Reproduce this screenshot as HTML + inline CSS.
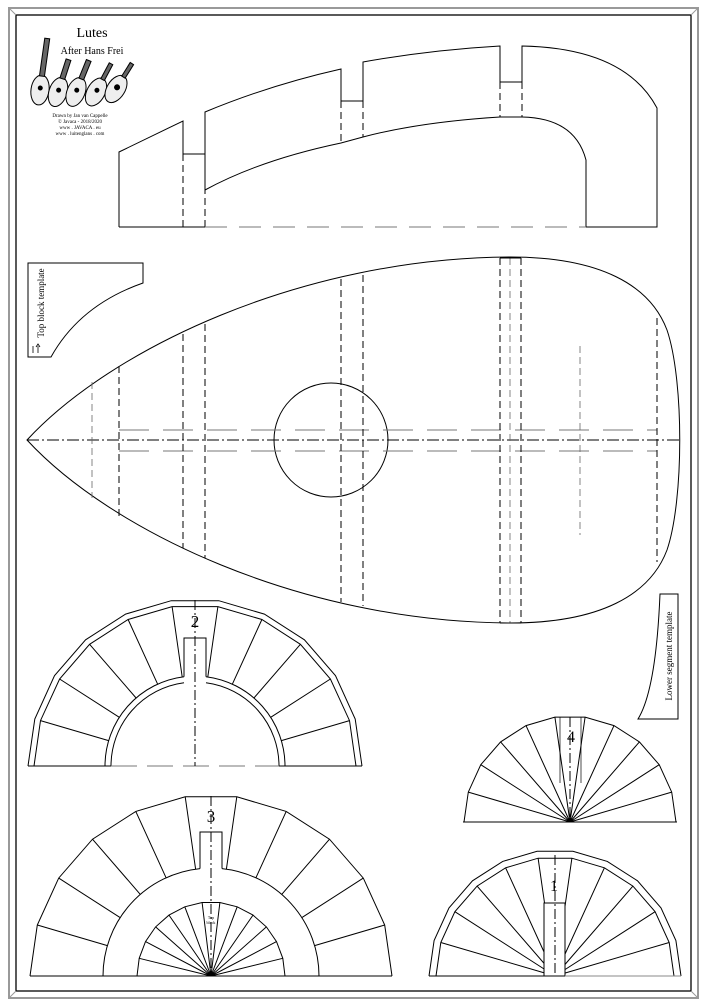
<!DOCTYPE html>
<html><head><meta charset="utf-8"><style>
html,body{margin:0;padding:0;background:#fff;}
svg{display:block;}
text{font-family:"Liberation Serif",serif;}
</style></head><body>
<svg id="s" width="707" height="1006" viewBox="0 0 707 1006" xmlns="http://www.w3.org/2000/svg" fill="none" stroke="#000" stroke-width="1">
<rect x="9" y="8" width="689" height="990" stroke="#999" stroke-width="2"/>
<rect x="16" y="15" width="675" height="976" stroke="#000" stroke-width="1.3"/>
<line x1="9" y1="8" x2="16" y2="15" stroke="#999"/><line x1="698" y1="8" x2="691" y2="15" stroke="#999"/>
<line x1="9" y1="998" x2="16" y2="991" stroke="#999"/><line x1="698" y1="998" x2="691" y2="991" stroke="#999"/>

<!-- logo -->
<text x="92" y="37" font-size="14" fill="#000" stroke="none" text-anchor="middle">Lutes</text>
<text x="92" y="54" font-size="10" fill="#000" stroke="none" text-anchor="middle">After Hans Frei</text>
<g stroke="#000" stroke-width="1">
 <g transform="translate(40,90) rotate(8)"><ellipse cx="0" cy="0" rx="9" ry="15" fill="#eee"/><rect x="-2.5" y="-52" width="5" height="38" fill="#666"/><circle cx="0" cy="-2" r="2" fill="#000"/></g>
 <g transform="translate(58,92) rotate(18)"><ellipse cx="0" cy="0" rx="9" ry="15" fill="#eee"/><rect x="-2.5" y="-34" width="5" height="20" fill="#666"/><circle cx="0" cy="-2" r="2" fill="#000"/></g>
 <g transform="translate(76,92) rotate(22)"><ellipse cx="0" cy="0" rx="9" ry="15" fill="#eee"/><rect x="-2.5" y="-34" width="5" height="20" fill="#666"/><circle cx="0" cy="-2" r="2" fill="#000"/></g>
 <g transform="translate(96,92) rotate(28)"><ellipse cx="0" cy="0" rx="9" ry="15" fill="#eee"/><rect x="-2" y="-32" width="4" height="18" fill="#666"/><circle cx="0" cy="-2" r="2" fill="#000"/></g>
 <g transform="translate(116,89) rotate(32)"><ellipse cx="0" cy="0" rx="9" ry="15" fill="#eee"/><rect x="-2" y="-30" width="4" height="16" fill="#666"/><circle cx="0" cy="-2" r="2.5" fill="#000"/></g>
</g>
<g font-size="5" fill="#000" stroke="none" text-anchor="middle">
<text x="80" y="117">Drawn by Jan van Cappelle</text>
<text x="80" y="123">© Javaca - 2018/2020</text>
<text x="80" y="129">www . JAVACA . eu</text>
<text x="80" y="135">www . luitenglans . com</text>
</g>

<!-- top block -->
<g stroke-width="1">
<path d="M119,227 L119,152 L183,121 L183,154 M183,154 L205,154 M205,190 L205,112 Q270,85 341,69 L341,101 L363,101 L363,62 Q430,50 500,46 L500,82 L522,82 L522,46 Q625,48 657,108 L657,227 L586,227 L586,160 Q575,118 522,117 M500,117 Q420,122 363,137 L341,143 Q260,160 205,190"/>
<path d="M500,117 L522,117"/>
<path d="M119,227 L205,227"/>
<g stroke-dasharray="7,4"><path d="M183,154 L183,227 M205,154 L205,227 M341,101 L341,143 M363,101 L363,137 M500,82 L500,117 M522,82 L522,117"/></g>
<path d="M205,227 L586,227" stroke="#777" stroke-dasharray="22,12"/>
</g>

<!-- top block template -->
<path d="M28,263 L143,263 L143,283 Q80,305 51,357 L28,357 Z"/>
<text transform="translate(44,303) rotate(-90)" font-size="9" fill="#000" stroke="none" text-anchor="middle">Top block template</text>
<path d="M33,353 L33,346 M38,353 L38,346 M36,347 l2,-3 l2,3" stroke-width="0.8"/>

<!-- lower segment template -->
<path d="M660,594 L678,594 L678,719 L638,719 Q656,690 660,594 Z"/>
<text transform="translate(672,656) rotate(-90)" font-size="9" fill="#000" stroke="none" text-anchor="middle">Lower segment template</text>

<!-- body -->
<path d="M27,440 C110,350 300,258 510,257 C600,257 650,285 667,330 C684,380 684,500 667,550 C650,595 600,623 510,623 C300,622 110,530 27,440 Z"/>
<circle cx="331" cy="440" r="57"/>
<path d="M27,440 L680,440" stroke-dasharray="12,3,2,3"/>
<path d="M119,430 L657,430 M119,451 L657,451" stroke="#777" stroke-dasharray="30,14"/>
<g stroke-dasharray="7,4">
<path d="M119,366 L119,516 M183,334 L183,548 M205,324 L205,558 M341,279 L341,602 M363,275 L363,606 M500,258 L500,623 M521,258 L521,623 M657,318 L657,562"/>
</g>
<g stroke="#666" stroke-width="0.8" stroke-dasharray="7,4"><path d="M92,382 L92,498 M510,258 L510,623 M580,346 L580,535"/></g>
<path d="M500,623 L521,623 M500,258 L521,258"/>

<g id="t"></g>
<text x="195" y="627" font-size="17" fill="#000" stroke="none" text-anchor="middle">2</text>
<text x="211" y="822" font-size="17" fill="#000" stroke="none" text-anchor="middle">3</text>
<text x="571" y="742" font-size="16" fill="#000" stroke="none" text-anchor="middle">4</text>
<text x="554" y="891" font-size="16" fill="#000" stroke="none" text-anchor="middle">1</text>
<text x="211" y="919" font-size="4" fill="#000" stroke="none" text-anchor="middle">Top</text>
<text x="211" y="924" font-size="4" fill="#000" stroke="none" text-anchor="middle">block</text>
</svg>
<script>
var g=document.getElementById('t'),out='';
function P(cx,cy,r,a){a=a*Math.PI/180;return [cx+r*Math.cos(a),cy-r*Math.sin(a)];}
function poly(cx,cy,r,n){var s='M';for(var k=0;k<=n;k++){var p=P(cx,cy,r,k*180/n);s+=(k?' L':'')+p[0].toFixed(1)+','+p[1].toFixed(1);}return '<path d="'+s+'"/>';}
function rad(cx,cy,r1,r2,n,skipEnds){var s='';for(var k=(skipEnds?1:0);k<=(skipEnds?n-1:n);k++){var a=k*180/n,p=P(cx,cy,r1,a),q=P(cx,cy,r2,a);s+='M'+p[0].toFixed(1)+','+p[1].toFixed(1)+' L'+q[0].toFixed(1)+','+q[1].toFixed(1)+' ';}return '<path d="'+s+'"/>';}
function arc(cx,cy,r,hw){var a=Math.asin(hw/r);var x1=cx-r,x2=cx-r*Math.sin(a),y2=cy-r*Math.cos(a);return '<path d="M'+x1+','+cy+' A'+r+','+r+' 0 0 1 '+x2.toFixed(1)+','+y2.toFixed(1)+' M'+(2*cx-x2).toFixed(1)+','+y2.toFixed(1)+' A'+r+','+r+' 0 0 1 '+(cx+r)+','+cy+'"/>';}
var cx=195,cy=766;
out+=poly(cx,cy,167,11)+poly(cx,cy,161,11)+rad(cx,cy,90,161,11,true)+arc(cx,cy,90,11)+arc(cx,cy,84,11);
out+='<path d="M28,766 L34,766 M356,766 L362,766 M105,766 L111,766 M279,766 L285,766 M34,766 L105,766 M285,766 L356,766"/>';
out+='<path d="M111,766 L279,766" stroke="#777" stroke-dasharray="26,10"/>';
var sy=cy-Math.sqrt(90*90-11*11);
out+='<path d="M184,'+sy.toFixed(1)+' L184,638 L206,638 L206,'+sy.toFixed(1)+'"/>';
out+='<path d="M195,600 L195,766" stroke-dasharray="10,3,2,3"/>';
cx=211;cy=976;
out+=poly(cx,cy,181,11)+rad(cx,cy,108,181,11,true)+arc(cx,cy,108,11);
sy=cy-Math.sqrt(108*108-11*11);
out+='<path d="M200,'+sy.toFixed(1)+' L200,832 L222,832 L222,'+sy.toFixed(1)+'"/>';
out+='<path d="M30,976 L392,976"/>';
out+=poly(cx,cy,74,13)+rad(cx,cy,0,74,13,false);
out+='<path d="M211,796 L211,976" stroke-dasharray="10,3,2,3"/>';
cx=570;cy=822;
out+=poly(cx,cy,106,11)+rad(cx,cy,0,106,11,false);
out+='<path d="M463,822 L677,822"/>';
out+='<path d="M560,717 L560,783 M581,717 L581,783" stroke-width="0.7"/>';
out+='<path d="M570,717 L570,822" stroke-dasharray="10,3,2,3"/>';
cx=555;cy=976;
out+=poly(cx,cy,126,11)+poly(cx,cy,119,11)+rad(cx,cy,0,119,11,true);
out+='<rect x="544" y="903" width="21" height="73" fill="#fff"/>';
out+='<path d="M429,976 L544,976"/><path d="M565,976 L681,976" stroke="#888"/>';
out+='<path d="M555,855 L555,976" stroke-dasharray="10,3,2,3"/>';
g.innerHTML=out;
</script>
</body></html>
